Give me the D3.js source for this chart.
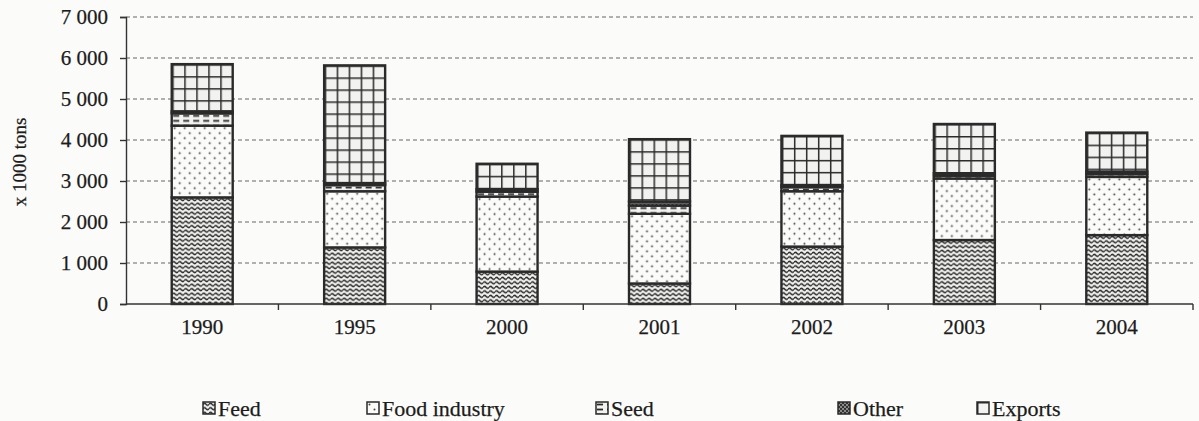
<!DOCTYPE html>
<html>
<head>
<meta charset="utf-8">
<script src="https://cdn.jsdelivr.net/npm/d3@7"></script>
<style>
  html, body { margin: 0; padding: 0; background: #fbfbf9; }
  svg { display: block; }
  text { font-family: "Liberation Serif", "Times New Roman", serif; fill: #1c1c1c; stroke: #1c1c1c; stroke-width: 0.25; }
</style>
</head>
<body>
<svg id="chart" width="1199" height="421"></svg>
<script>
// Grain use by destination, thousand tons
const years = ["1990", "1995", "2000", "2001", "2002", "2003", "2004"];
const feed = [2600, 1380, 790, 500, 1400, 1560, 1680];
const foodIndustry = [1750, 1370, 1830, 1700, 1350, 1500, 1420];
const seed = [300, 150, 120, 200, 100, 70, 70];
const other = [50, 50, 60, 100, 50, 60, 60];
const exportsT = [1150, 2870, 620, 1520, 1200, 1200, 950];

const seriesKeys = ["feed", "food", "seed", "other", "exports"];
const seriesNames = ["Feed", "Food industry", "Seed", "Other", "Exports"];
const yTicks = [0, 1000, 2000, 3000, 4000, 5000, 6000, 7000];
const yTickLabels = ["0", "1 000", "2 000", "3 000", "4 000", "5 000", "6 000", "7 000"];

const rows = years.map((yr, i) => ({
  year: yr, feed: feed[i], food: foodIndustry[i], seed: seed[i], other: other[i], exports: exportsT[i]
}));

const svg = d3.select("#chart");
const plotLeft = 126, plotRight = 1193, plotTop = 17, plotBottom = 304;

const x = d3.scaleBand().domain(years).range([plotLeft, plotRight]).paddingInner(0.6).paddingOuter(0.3);
const y = d3.scaleLinear().domain([0, 7000]).range([plotBottom, plotTop]);

const stacked = d3.stack().keys(seriesKeys)(rows);

// ---- fill patterns ----
const defs = svg.append("defs");
const ink = "#2a2a2a";

function wavePattern(id, ox, oy) {
  const p = defs.append("pattern").attr("id", id).attr("patternUnits", "userSpaceOnUse")
    .attr("width", 6).attr("height", 4.5).attr("x", ox).attr("y", oy);
  p.append("rect").attr("width", 6).attr("height", 4.5).attr("fill", "#f2f2f0");
  p.append("path").attr("d", "M0,2.25 Q1.5,0.2 3,2.25 T6,2.25")
    .attr("fill", "none").attr("stroke", ink).attr("stroke-width", 1.4);
}
function dotPattern(id, ox, oy) {
  const p = defs.append("pattern").attr("id", id).attr("patternUnits", "userSpaceOnUse")
    .attr("width", 10).attr("height", 10).attr("x", ox).attr("y", oy);
  p.append("rect").attr("width", 10).attr("height", 10).attr("fill", "#fbfbf9");
  p.append("circle").attr("cx", 2.5).attr("cy", 2.5).attr("r", 1).attr("fill", "#444");
  p.append("circle").attr("cx", 7.5).attr("cy", 7.5).attr("r", 1).attr("fill", "#444");
}
function dashPattern(id, ox, oy) {
  const p = defs.append("pattern").attr("id", id).attr("patternUnits", "userSpaceOnUse")
    .attr("width", 10).attr("height", 5).attr("x", ox).attr("y", oy);
  p.append("rect").attr("width", 10).attr("height", 5).attr("fill", "#f2f2f0");
  p.append("line").attr("x1", 1).attr("x2", 7).attr("y1", 2.5).attr("y2", 2.5)
    .attr("stroke", ink).attr("stroke-width", 1.8);
}
function checkPattern(id, ox, oy) {
  const p = defs.append("pattern").attr("id", id).attr("patternUnits", "userSpaceOnUse")
    .attr("width", 4).attr("height", 4).attr("x", ox).attr("y", oy);
  p.append("rect").attr("width", 4).attr("height", 4).attr("fill", "#8a8a88");
  p.append("rect").attr("width", 2).attr("height", 2).attr("fill", "#333");
  p.append("rect").attr("x", 2).attr("y", 2).attr("width", 2).attr("height", 2).attr("fill", "#333");
}
function gridPattern(id, ox, oy) {
  const p = defs.append("pattern").attr("id", id).attr("patternUnits", "userSpaceOnUse")
    .attr("width", 12).attr("height", 12).attr("x", ox).attr("y", oy);
  p.append("rect").attr("width", 12).attr("height", 12).attr("fill", "#f2f2f0");
  p.append("path").attr("d", "M0,0H12M0,0V12").attr("stroke", ink).attr("stroke-width", 3).attr("fill", "none");
}
const makers = { feed: wavePattern, food: dotPattern, seed: dashPattern, other: checkPattern, exports: gridPattern };

// ---- grid lines ----
svg.append("g").selectAll("line")
  .data(yTicks.filter(t => t > 0))
  .join("line")
  .attr("x1", plotLeft).attr("x2", plotRight)
  .attr("y1", d => y(d)).attr("y2", d => y(d))
  .attr("stroke", "#666").attr("stroke-width", 1.2).attr("stroke-dasharray", "4,3");

// ---- bars ----
stacked.forEach(layer => {
  layer.forEach((seg, i) => {
    makers[layer.key](`p-${layer.key}-${i}`, x(years[i]) + 0.5, y(seg[1]));
  });
});

const barG = svg.append("g");
stacked.forEach(layer => {
  barG.append("g").selectAll("rect")
    .data(layer)
    .join("rect")
    .attr("x", (d, i) => x(years[i]))
    .attr("y", d => y(d[1]))
    .attr("width", x.bandwidth())
    .attr("height", d => y(d[0]) - y(d[1]))
    .attr("fill", (d, i) => `url(#p-${layer.key}-${i})`)
    .attr("stroke", "#2a2a2a")
    .attr("stroke-width", 2.4);
});

// ---- y axis ----
const yAxis = svg.append("g").attr("transform", `translate(${plotLeft},0)`)
  .call(d3.axisLeft(y).tickValues(yTicks).tickSize(6).tickPadding(12)
    .tickFormat((d, i) => yTickLabels[i]));
yAxis.select(".domain").attr("stroke", "#333").attr("stroke-width", 1.4);
yAxis.selectAll(".tick line").attr("stroke", "#333").attr("stroke-width", 1.4);
yAxis.selectAll(".tick text")
  .attr("font-family", "Liberation Serif, serif").attr("font-size", 21).attr("fill", "#1c1c1c");

// ---- x axis ----
const gap = x.step() - x.bandwidth();
svg.append("line").attr("x1", plotLeft).attr("x2", plotRight).attr("y1", plotBottom).attr("y2", plotBottom)
  .attr("stroke", "#333").attr("stroke-width", 1.4);
svg.append("g").selectAll("line")
  .data(years)
  .join("line")
  .attr("x1", d => x(d) + x.bandwidth() + gap / 2)
  .attr("x2", d => x(d) + x.bandwidth() + gap / 2)
  .attr("y1", plotBottom).attr("y2", plotBottom + 6)
  .attr("stroke", "#333").attr("stroke-width", 1.4);
svg.append("g").selectAll("text")
  .data(years)
  .join("text")
  .attr("x", d => x(d) + x.bandwidth() / 2)
  .attr("y", 334)
  .attr("text-anchor", "middle")
  .attr("font-size", 21)
  .text(d => d);

// ---- y label ----
svg.append("text")
  .attr("transform", "translate(26,162) rotate(-90)")
  .attr("text-anchor", "middle")
  .attr("font-size", 19)
  .text("x 1000 tons");

// ---- legend ----
const legendX = [203, 367, 596, 838, 977];
seriesKeys.forEach((k, i) => {
  makers[k](`lg-${k}`, legendX[i], 402);
  svg.append("rect").attr("x", legendX[i]).attr("y", 402).attr("width", 12).attr("height", 12)
    .attr("fill", `url(#lg-${k})`).attr("stroke", "#2a2a2a").attr("stroke-width", 1.5);
  svg.append("text").attr("x", legendX[i] + 15).attr("y", 416).attr("font-size", 22).text(seriesNames[i]);
});
</script>
</body>
</html>
